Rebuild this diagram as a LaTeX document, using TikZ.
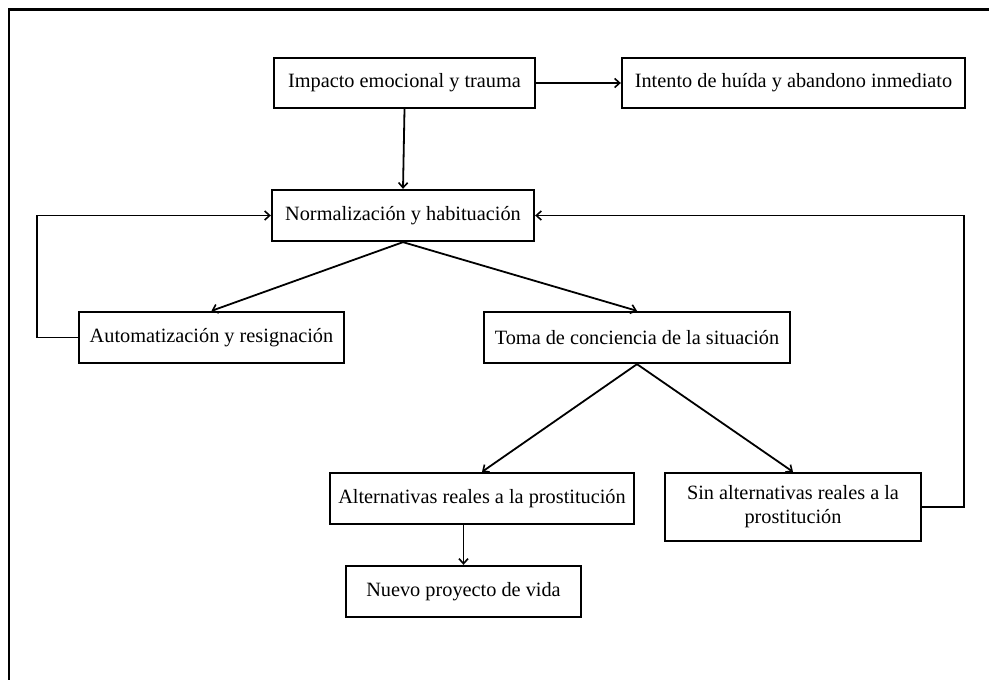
\documentclass[tikz,border=0pt]{standalone}
\usepackage{fontspec}
\setmainfont{Liberation Serif}
\usetikzlibrary{arrows.meta}
\begin{document}
\begin{tikzpicture}[x=1pt,y=-1pt,
  box/.style={draw=black,line width=2.3pt,inner sep=0pt,fill=white,
    font=\fontsize{20.3}{25}\selectfont,align=center},
  arr/.style={line width=1.8pt,-{Straight Barb[length=5pt,width=9pt,line width=1.6pt]}}]
\useasboundingbox[fill=white] (0,0) rectangle (989,680);
\coordinate (fa) at (989,9.5);
\coordinate (fb) at (9,9.5);
\coordinate (fc) at (9,680);
\draw[line width=2.6pt] (fa) -- (fb) -- (fc);
\node[box,minimum width=261pt,minimum height=50pt] (imp) at (404.5,83) {Impacto emocional y trauma};
\node[box,minimum width=343pt,minimum height=50pt] (int) at (793.5,83) {Intento de huída y abandono inmediato};
\node[box,minimum width=262pt,minimum height=51pt] (nor) at (403,215.5) {Normalización y habituación};
\node[box,minimum width=265pt,minimum height=51pt] (aut) at (211.5,337.5) {Automatización y resignación};
\node[box,minimum width=306pt,minimum height=51pt] (tom) at (637,337.5) {Toma de conciencia de la situación};
\node[box,minimum width=304pt,minimum height=51pt] (alt) at (482,498.5) {Alternativas reales a la prostitución};
\node[box,minimum width=256pt,minimum height=68pt] (sin) at (793,507) {Sin alternativas reales a la\\[-1pt]prostitución};
\node[box,minimum width=235pt,minimum height=51pt] (nue) at (463.5,591.5) {Nuevo proyecto de vida};
\draw[arr] (imp.east) -- (int.west);
\draw[arr] (imp.south) -- (nor.north);
\draw[arr] (nor.south) -- (aut.north);
\draw[arr] (nor.south) -- (tom.north);
\draw[arr] (tom.south) -- (alt.north);
\draw[arr] (tom.south) -- (sin.north);
\draw[arr] (alt.south -| nue.north) -- (nue.north);
\draw[arr] (aut.west) -- ++(-41,0) |- (nor.west);
\draw[arr] (sin.east) -- ++(42,0) |- (nor.east);
\end{tikzpicture}
\end{document}
